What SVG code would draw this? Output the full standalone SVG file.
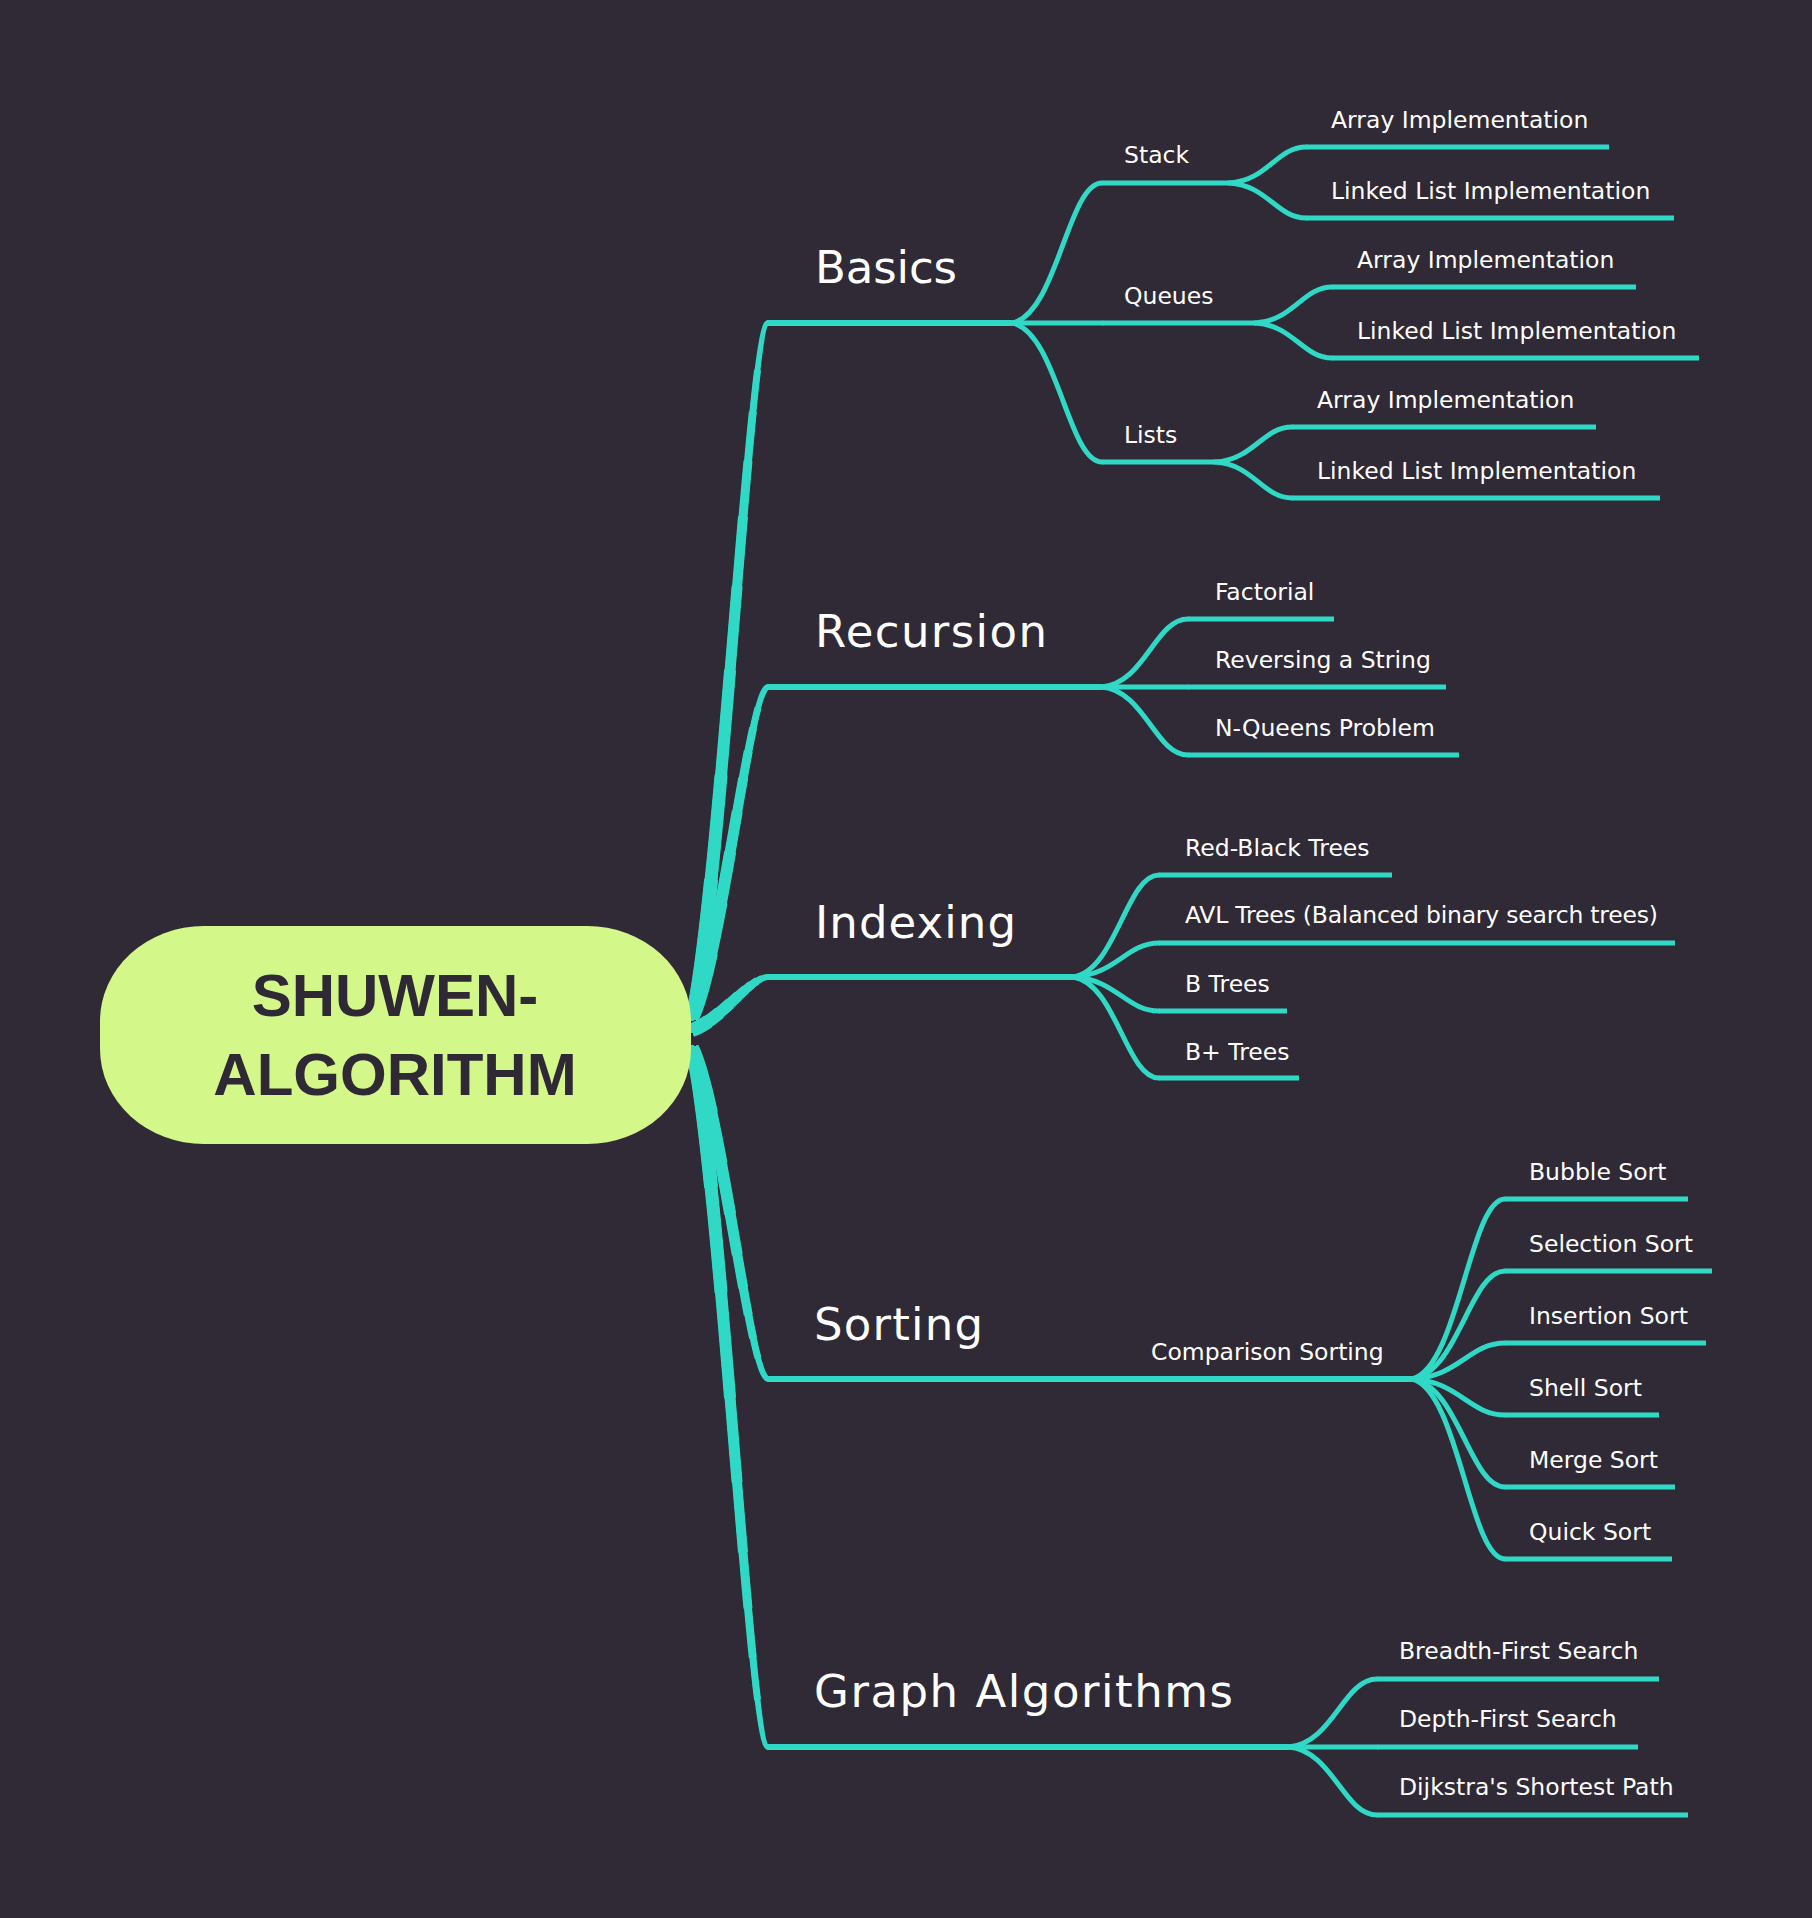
<svg xmlns="http://www.w3.org/2000/svg" xmlns:xlink="http://www.w3.org/1999/xlink" width="1812" height="1918" viewBox="0 0 1812 1918">
<style>
.ln{fill:none;stroke:#30d9c5;stroke-linecap:round;stroke-linejoin:round}
.tp{fill:none;stroke:#30d9c5;stroke-linecap:butt}
.c{stroke-width:5}
.u{fill:none;stroke:#30d9c5;stroke-width:5;stroke-linecap:butt}
.um{fill:none;stroke:#30d9c5;stroke-width:6;stroke-linecap:butt}
.w6{stroke-width:6;stroke-linecap:round}
.w7{stroke-width:7;stroke-dasharray:93 300}
.w8{stroke-width:8;stroke-dasharray:87 300}
.w9{stroke-width:9;stroke-dasharray:80 300}
.w10{stroke-width:10;stroke-dasharray:72 300}
.w11{stroke-width:11;stroke-dasharray:62 300}
.w12{stroke-width:12;stroke-dasharray:50 300}
.w13{stroke-width:13;stroke-dasharray:35 300}
.w14{stroke-width:14;stroke-dasharray:20 300}
.t{font-family:"DejaVu Sans",Verdana,sans-serif;fill:#ffffff}
.t1{font-size:45px}
.t2{font-size:23.5px}
.root{font-family:"Liberation Sans",Arial,sans-serif;font-weight:bold;font-size:60px;fill:#2e2934;text-anchor:middle}
</style>
<defs>
<path id="trB" d="M692 1018 C720 900 750 323 768 323" pathLength="100"/>
<path id="trR" d="M692 1018 C720 962 750 687 768 687" pathLength="100"/>
<path id="trI" d="M692 1030 C720 1021 750 977 768 977" pathLength="100"/>
<path id="trS" d="M692 1048 C720 1104 750 1379 768 1379" pathLength="100"/>
<path id="trG" d="M692 1048 C720 1167 750 1747 768 1747" pathLength="100"/>
</defs>
<rect width="1812" height="1918" fill="#2f2a35"/>

<g id="connectors">
  <g id="trunks" class="tp">
    <use xlink:href="#trB" class="w6"/><use xlink:href="#trB" class="w7"/><use xlink:href="#trB" class="w8"/><use xlink:href="#trB" class="w9"/><use xlink:href="#trB" class="w10"/><use xlink:href="#trB" class="w11"/><use xlink:href="#trB" class="w12"/><use xlink:href="#trB" class="w13"/><use xlink:href="#trB" class="w14"/>
    <use xlink:href="#trR" class="w6"/><use xlink:href="#trR" class="w7"/><use xlink:href="#trR" class="w8"/><use xlink:href="#trR" class="w9"/><use xlink:href="#trR" class="w10"/><use xlink:href="#trR" class="w11"/><use xlink:href="#trR" class="w12"/><use xlink:href="#trR" class="w13"/><use xlink:href="#trR" class="w14"/>
    <use xlink:href="#trI" class="w6"/><use xlink:href="#trI" class="w7"/><use xlink:href="#trI" class="w8"/><use xlink:href="#trI" class="w9"/><use xlink:href="#trI" class="w10"/><use xlink:href="#trI" class="w11"/><use xlink:href="#trI" class="w12"/><use xlink:href="#trI" class="w13"/><use xlink:href="#trI" class="w14"/>
    <use xlink:href="#trS" class="w6"/><use xlink:href="#trS" class="w7"/><use xlink:href="#trS" class="w8"/><use xlink:href="#trS" class="w9"/><use xlink:href="#trS" class="w10"/><use xlink:href="#trS" class="w11"/><use xlink:href="#trS" class="w12"/><use xlink:href="#trS" class="w13"/><use xlink:href="#trS" class="w14"/>
    <use xlink:href="#trG" class="w6"/><use xlink:href="#trG" class="w7"/><use xlink:href="#trG" class="w8"/><use xlink:href="#trG" class="w9"/><use xlink:href="#trG" class="w10"/><use xlink:href="#trG" class="w11"/><use xlink:href="#trG" class="w12"/><use xlink:href="#trG" class="w13"/><use xlink:href="#trG" class="w14"/>
  </g>
  <g class="ln c">
    <!-- Basics -->
    <path d="M1012 323 C1057 314.6 1067.8 183 1102 183"/>
    <path d="M1012 323 H1102"/>
    <path d="M1012 323 C1057 331.3 1067.8 462 1102 462"/>
    <!-- Stack -->
    <path d="M1229 183 C1267.5 180.8 1276.7 147 1306 147"/>
    <path d="M1229 183 C1267.5 185.1 1276.7 218 1306 218"/>
    <!-- Queues -->
    <path d="M1255 323 C1293.5 320.8 1302.7 287 1332 287"/>
    <path d="M1255 323 C1293.5 325.1 1302.7 358 1332 358"/>
    <!-- Lists -->
    <path d="M1215 462 C1253.5 459.9 1262.7 427 1292 427"/>
    <path d="M1215 462 C1253.5 464.2 1262.7 498 1292 498"/>
    <!-- Recursion -->
    <path d="M1102 687 C1145 682.9 1155.3 619 1188 619"/>
    <path d="M1102 687 H1188"/>
    <path d="M1102 687 C1145 691.1 1155.3 755 1188 755"/>
    <!-- Indexing -->
    <path d="M1073 977 C1116 970.9 1126.3 875 1159 875"/>
    <path d="M1073 977 C1116 975 1126.3 943 1159 943"/>
    <path d="M1073 977 C1116 979 1126.3 1011 1159 1011"/>
    <path d="M1073 977 C1116 983.1 1126.3 1078 1159 1078"/>
    <!-- Sorting -->
    <path d="M1040 1379 H1129" style="stroke-width:6"/>
    <path d="M1412 1379 C1458.5 1368.2 1469.7 1199 1505 1199"/>
    <path d="M1412 1379 C1458.5 1372.5 1469.7 1271 1505 1271"/>
    <path d="M1412 1379 C1458.5 1376.8 1469.7 1343 1505 1343"/>
    <path d="M1412 1379 C1458.5 1381.2 1469.7 1415 1505 1415"/>
    <path d="M1412 1379 C1458.5 1385.5 1469.7 1487 1505 1487"/>
    <path d="M1412 1379 C1458.5 1389.8 1469.7 1559 1505 1559"/>
    <!-- Graph -->
    <path d="M1289 1747 C1333 1742.9 1343.6 1679 1377 1679"/>
    <path d="M1289 1747 H1377"/>
    <path d="M1289 1747 C1333 1751.1 1343.6 1815 1377 1815"/>
  </g>
</g>

<g id="root">
  <rect x="100" y="926" width="591" height="218" rx="104" ry="95" fill="#d3f788"/>
  <text class="root" x="395" y="1016">SHUWEN-</text>
  <text class="root" x="395" y="1095">ALGORITHM</text>
</g>

<g id="basics"><path class="um" d="M767 323 H1012"/><text class="t t1" x="815" y="283" textLength="142">Basics</text></g>
<g id="stack"><path class="u" d="M1102 183 H1229"/><text class="t t2" x="1124" y="163">Stack</text></g>
<g id="stack-array"><path class="u" d="M1306 147 H1609"/><text class="t t2" x="1331" y="128">Array Implementation</text></g>
<g id="stack-linked"><path class="u" d="M1306 218 H1674"/><text class="t t2" x="1331" y="199">Linked List Implementation</text></g>
<g id="queues"><path class="u" d="M1102 323 H1255"/><text class="t t2" x="1124" y="304">Queues</text></g>
<g id="queues-array"><path class="u" d="M1332 287 H1636"/><text class="t t2" x="1357" y="268">Array Implementation</text></g>
<g id="queues-linked"><path class="u" d="M1332 358 H1699"/><text class="t t2" x="1357" y="339">Linked List Implementation</text></g>
<g id="lists"><path class="u" d="M1102 462 H1215"/><text class="t t2" x="1124" y="443">Lists</text></g>
<g id="lists-array"><path class="u" d="M1292 427 H1596"/><text class="t t2" x="1317" y="408">Array Implementation</text></g>
<g id="lists-linked"><path class="u" d="M1292 498 H1660"/><text class="t t2" x="1317" y="479">Linked List Implementation</text></g>

<g id="recursion"><path class="um" d="M767 687 H1102"/><text class="t t1" x="815" y="647" textLength="232">Recursion</text></g>
<g id="factorial"><path class="u" d="M1188 619 H1334"/><text class="t t2" x="1215" y="600">Factorial</text></g>
<g id="reversing"><path class="u" d="M1188 687 H1446"/><text class="t t2" x="1215" y="668">Reversing a String</text></g>
<g id="nqueens"><path class="u" d="M1188 755 H1459"/><text class="t t2" x="1215" y="736">N-Queens Problem</text></g>

<g id="indexing"><path class="um" d="M767 977 H1073"/><text class="t t1" x="815" y="938" textLength="201">Indexing</text></g>
<g id="redblack"><path class="u" d="M1159 875 H1392"/><text class="t t2" x="1185" y="856">Red-Black Trees</text></g>
<g id="avl"><path class="u" d="M1159 943 H1675"/><text class="t t2" x="1185" y="923" textLength="473">AVL Trees (Balanced binary search trees)</text></g>
<g id="btrees"><path class="u" d="M1159 1011 H1287"/><text class="t t2" x="1185" y="992">B Trees</text></g>
<g id="bplus"><path class="u" d="M1159 1078 H1299"/><text class="t t2" x="1185" y="1060">B+ Trees</text></g>

<g id="sorting"><path class="um" d="M767 1379 H1040"/><text class="t t1" x="814" y="1340" textLength="169">Sorting</text></g>
<g id="comparison"><path class="um" d="M1129 1379 H1412"/><text class="t t2" x="1151" y="1360">Comparison Sorting</text></g>
<g id="bubble"><path class="u" d="M1505 1199 H1688"/><text class="t t2" x="1529" y="1180">Bubble Sort</text></g>
<g id="selection"><path class="u" d="M1505 1271 H1712"/><text class="t t2" x="1529" y="1252">Selection Sort</text></g>
<g id="insertion"><path class="u" d="M1505 1343 H1706"/><text class="t t2" x="1529" y="1324">Insertion Sort</text></g>
<g id="shell"><path class="u" d="M1505 1415 H1659"/><text class="t t2" x="1529" y="1396">Shell Sort</text></g>
<g id="merge"><path class="u" d="M1505 1487 H1675"/><text class="t t2" x="1529" y="1468">Merge Sort</text></g>
<g id="quick"><path class="u" d="M1505 1559 H1672"/><text class="t t2" x="1529" y="1540">Quick Sort</text></g>

<g id="graph"><path class="um" d="M767 1747 H1289"/><text class="t t1" x="814" y="1707" textLength="419">Graph Algorithms</text></g>
<g id="bfs"><path class="u" d="M1377 1679 H1659"/><text class="t t2" x="1399" y="1659">Breadth-First Search</text></g>
<g id="dfs"><path class="u" d="M1377 1747 H1638"/><text class="t t2" x="1399" y="1727">Depth-First Search</text></g>
<g id="dijkstra"><path class="u" d="M1377 1815 H1688"/><text class="t t2" x="1399" y="1795">Dijkstra's Shortest Path</text></g>
</svg>
